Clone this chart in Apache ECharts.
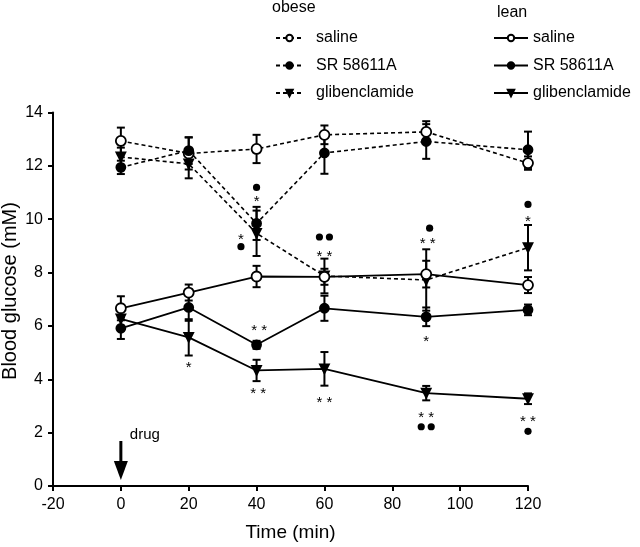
<!DOCTYPE html>
<html><head><meta charset="utf-8">
<script src="https://cdn.jsdelivr.net/npm/echarts@6/dist/echarts.min.js"></script>
<style>html,body{margin:0;padding:0;background:#fff}#c{width:640px;height:547px}</style>
</head><body><div id="c"></div>
<script>
// ---- data ----
const times = [0, 20, 40, 60, 90, 120];
const xTicks = [-20, 0, 20, 40, 60, 80, 100, 120];
const yTicks = [0, 2, 4, 6, 8, 10, 12, 14];

const obeseSaline   = [12.93, 12.46, 12.63, 13.16, 13.27, 12.10];
const obeseSalineSE = [0.50, 0.60, 0.53, 0.35, 0.40, 0.25];
const obeseSR       = [11.94, 12.57, 9.84, 12.48, 12.91, 12.60];
const obeseSRSE     = [0.25, 0.50, 0.62, 0.78, 0.65, 0.68];
const obeseGlib     = [12.33, 12.07, 9.47, 7.87, 7.72, 8.93];
const obeseGlibSE   = [0.35, 0.54, 0.85, 0.65, 1.15, 0.85];

const leanSaline    = [6.66, 7.25, 7.85, 7.84, 7.94, 7.53];
const leanSalineSE  = [0.45, 0.30, 0.40, 0.30, 0.50, 0.30];
const leanSR        = [5.91, 6.69, 5.29, 6.66, 6.34, 6.60];
const leanSRSE      = [0.40, 0.50, 0.15, 0.47, 0.35, 0.20];
const leanGlib      = [6.26, 5.57, 4.33, 4.39, 3.48, 3.27];
const leanGlibSE    = [0.40, 0.68, 0.40, 0.63, 0.27, 0.20];

// significance annotations
const annoX    = [40, 40, 35.4, 35.4, 60, 60, 91, 90.4, 120, 120, 40.8, 20, 40.5, 60, 90, 90, 90, 120, 120];
const annoY    = [11.19, 10.8, 9.39, 8.97, 9.33, 8.72, 9.66, 9.22, 10.55, 10.05, 5.95, 4.58, 3.62, 3.25, 5.54, 2.71, 2.22, 2.55, 2.05];
const annoText = ['●', '*', '*', '●', '●●', '**', '●', '**', '●', '*', '**', '*', '**', '**', '*', '**', '●●', '**', '●'];

const FONT = '"Liberation Sans", Arial, Helvetica, sans-serif';
const chart = echarts.init(document.getElementById('c'), null, {renderer: 'canvas'});

function errSeries(vals, se) {
  return {
    type: 'custom', silent: true, z: 2, animation: false,
    data: times.map((t, i) => [t, vals[i] - se[i], vals[i] + se[i]]),
    renderItem(params, api) {
      const x = api.value(0);
      const lo = api.coord([x, api.value(1)]);
      const hi = api.coord([x, api.value(2)]);
      const w = 4;
      const st = {stroke: '#000', lineWidth: 2};
      return {type: 'group', children: [
        {type: 'line', shape: {x1: lo[0], y1: lo[1], x2: hi[0], y2: hi[1]}, style: st},
        {type: 'line', shape: {x1: lo[0] - w, y1: lo[1], x2: lo[0] + w, y2: lo[1]}, style: st},
        {type: 'line', shape: {x1: hi[0] - w, y1: hi[1], x2: hi[0] + w, y2: hi[1]}, style: st}
      ]};
    }
  };
}
function lineSeries(name, vals, kind, dashed) {
  const tri = kind === 'tri';
  return {
    type: 'line', name, animation: false, z: 3,
    data: times.map((t, i) => [t, vals[i]]),
    symbol: tri ? 'triangle' : 'circle',
    symbolSize: tri ? 9 : (kind === 'open' ? 10 : 9),
    symbolRotate: tri ? 180 : 0,
    showAllSymbol: true,
    lineStyle: {color: '#000', width: dashed ? 1.6 : 1.8, type: dashed ? [4, 3] : 'solid'},
    itemStyle: {color: kind === 'open' ? '#fff' : '#000', borderColor: '#000', borderWidth: 1.8}
  };
}
const annoSeries = {
  type: 'custom', silent: true, z: 4, animation: false,
  data: annoX.map((x, i) => [x, annoY[i], i]),
  renderItem(params, api) {
    const p = api.coord([api.value(0), api.value(1)]);
    const txt = annoText[api.value(2)];
    if (txt[0] === '●') {
      const n = txt.length, ch = [];
      for (let k = 0; k < n; k++) {
        ch.push({type: 'circle', shape: {cx: p[0] + (k - (n - 1) / 2) * 10, cy: p[1], r: 3.6}, style: {fill: '#000'}});
      }
      return {type: 'group', children: ch};
    }
    return {type: 'text', x: p[0], y: p[1] + 4, style: {
      text: txt.split('').join(' '), font: '15px ' + FONT, fill: '#000', align: 'center', verticalAlign: 'middle'}};
  }
};

const axisCommon = {
  axisLine: {show: true, onZero: false, lineStyle: {color: '#000', width: 2}},
  axisTick: {show: true, length: 5, lineStyle: {color: '#000', width: 2}},
  axisLabel: {color: '#000', fontSize: 16, fontFamily: FONT},
  splitLine: {show: false}
};
const legendCommon = {
  orient: 'vertical', itemGap: 11.5, itemHeight: 8,
  formatter: n => n.replace(/^(obese|lean) /, ''),
  selectedMode: false, inactiveColor: '#000'
};

chart.setOption({
  animation: false,
  grid: {left: 53, right: 112, top: 112.4, bottom: 59.3, containLabel: false},
  xAxis: Object.assign({type: 'value', min: xTicks[0], max: xTicks[xTicks.length - 1], interval: 20,
    name: 'Time (min)', nameLocation: 'middle', nameGap: 37,
    nameTextStyle: {color: '#000', fontSize: 19, fontFamily: FONT}}, axisCommon,
    {axisLabel: Object.assign({}, axisCommon.axisLabel, {margin: 11})}),
  yAxis: Object.assign({type: 'value', min: yTicks[0], max: yTicks[yTicks.length - 1], interval: 2}, axisCommon,
    {axisLabel: Object.assign({}, axisCommon.axisLabel, {margin: 10})}),
  legend: [
    Object.assign({left: 270, top: 25, itemWidth: 27,
      textStyle: {color: '#000', fontSize: 16, fontFamily: FONT, padding: [0, 0, 0, 8]},
      data: ['obese saline', 'obese SR 58611A', 'obese glibenclamide']}, legendCommon),
    Object.assign({left: 488, top: 25, itemWidth: 34,
      textStyle: {color: '#000', fontSize: 16, fontFamily: FONT},
      data: ['lean saline', 'lean SR 58611A', 'lean glibenclamide']}, legendCommon)
  ],
  series: [
    errSeries(obeseSaline, obeseSalineSE), errSeries(obeseSR, obeseSRSE), errSeries(obeseGlib, obeseGlibSE),
    errSeries(leanSaline, leanSalineSE), errSeries(leanSR, leanSRSE), errSeries(leanGlib, leanGlibSE),
    lineSeries('obese saline', obeseSaline, 'open', true),
    lineSeries('obese SR 58611A', obeseSR, 'filled', true),
    lineSeries('obese glibenclamide', obeseGlib, 'tri', true),
    lineSeries('lean saline', leanSaline, 'open', false),
    lineSeries('lean SR 58611A', leanSR, 'filled', false),
    lineSeries('lean glibenclamide', leanGlib, 'tri', false),
    annoSeries
  ]
});

// drug arrow + headings + y-axis title
const o = chart.convertToPixel({gridIndex: 0}, [0, 0]);
chart.setOption({
  graphic: [
    {type: 'text', left: 272, top: 0, style: {text: 'obese', font: '16px ' + FONT, fill: '#000'}},
    {type: 'text', left: 497, top: 5, style: {text: 'lean', font: '16px ' + FONT, fill: '#000'}},
    {type: 'text', x: 10, y: 291, rotation: Math.PI / 2,
      style: {text: 'Blood glucose (mM)', font: '20px ' + FONT, fill: '#000', align: 'center', verticalAlign: 'middle'}},
    {type: 'line', shape: {x1: o[0], y1: o[1] - 45, x2: o[0], y2: o[1] - 20}, style: {stroke: '#000', lineWidth: 3}},
    {type: 'polygon', shape: {points: [[o[0] - 7, o[1] - 25], [o[0] + 7, o[1] - 25], [o[0], o[1] - 6]]}, style: {fill: '#000'}},
    {type: 'text', x: o[0] + 9, y: o[1] - 51, style: {text: 'drug', font: '15px ' + FONT, fill: '#000', verticalAlign: 'middle'}}
  ]
});
</script>
</body></html>
